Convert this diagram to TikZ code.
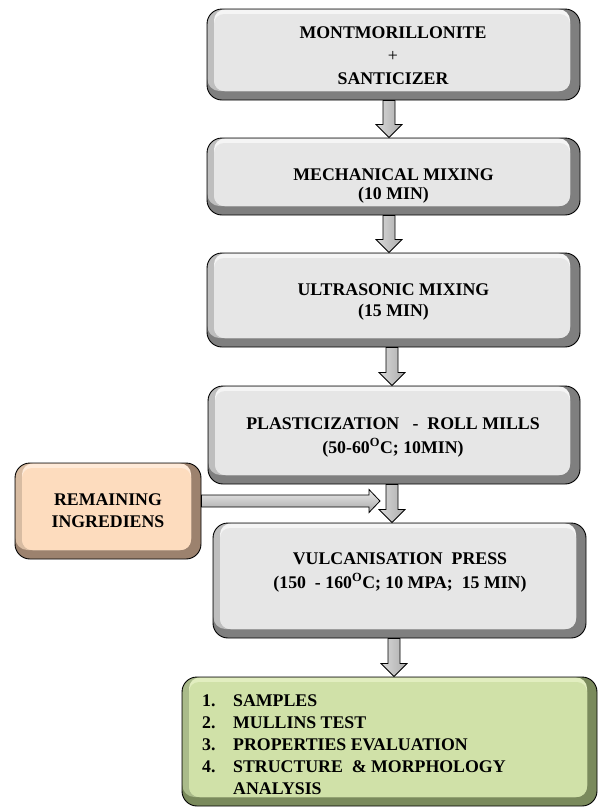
\documentclass[tikz,border=0pt]{standalone}
\usepackage{fontspec}
\setmainfont{Liberation Serif}
\usetikzlibrary{calc}
\definecolor{gface}{HTML}{E6E6E6}
\definecolor{gdark}{HTML}{7F7F7F}
\definecolor{gside}{HTML}{BEBEBE}
\definecolor{glight}{HTML}{F5F5F5}
\definecolor{oface}{HTML}{FDDCBE}
\definecolor{odark}{HTML}{9C826E}
\definecolor{oside}{HTML}{D8BCA2}
\definecolor{olight}{HTML}{FFEAD8}
\definecolor{vface}{HTML}{D0E1A8}
\definecolor{vdark}{HTML}{7A8A5C}
\definecolor{vside}{HTML}{AABB8A}
\definecolor{vlight}{HTML}{E2EEC0}
\tikzset{
  bevelbox/.style n args={4}{rounded corners=15pt, draw=black, line width=0.9pt,
    fill=#2, inner sep=0pt,
    path picture={
      \fill[#3, rounded corners=12pt] ([shift={(0.4pt,9pt)}]path picture bounding box.south west) rectangle ([shift={(-10pt,-0.4pt)}]path picture bounding box.north east);
      \fill[#4, rounded corners=11pt] ([shift={(7pt,9pt)}]path picture bounding box.south west) rectangle ([shift={(-10pt,-0.4pt)}]path picture bounding box.north east);
      \fill[#1, rounded corners=10pt] ([shift={(7pt,9pt)}]path picture bounding box.south west) rectangle ([shift={(-10pt,-5pt)}]path picture bounding box.north east);
    }},
  graybox/.style={bevelbox={gface}{gdark}{gside}{glight}},
  orangebox/.style={bevelbox={oface}{odark}{oside}{olight}},
  greenbox/.style={bevelbox={vface}{vdark}{vside}{vlight}},
  lbl/.style={inner sep=0pt, align=center, font=\fontsize{17.8}{#1}\selectfont\bfseries},
  varrowstyle/.style={draw=black, line width=0.8pt, left color=gray!30, middle color=white, right color=gray!65},
  harrowstyle/.style={draw=black, line width=0.8pt, top color=gray!15, middle color=gray!45, bottom color=gray!70},
}
\newcommand\varrow[3]{% xshift, from, to
  \path let \p1=([xshift=#1]#2.south), \p2=(#3.north) in
    [varrowstyle] (\x1-6pt,\y1) -- (\x1-6pt,\y2+13pt) -- (\x1-13pt,\y2+13pt) -- (\x1,\y2)
    -- (\x1+13pt,\y2+13pt) -- (\x1+6pt,\y2+13pt) -- (\x1+6pt,\y1) -- cycle;}
\begin{document}
\begin{tikzpicture}
\useasboundingbox (0,0) rectangle (598pt,-807pt);
% boxes
\node[graybox, minimum width=373pt, minimum height=91pt] (b1) at (393.5pt,-54.5pt) {};
\node[graybox, minimum width=373pt, minimum height=77pt] (b2) at (393.5pt,-176.5pt) {};
\node[graybox, minimum width=373pt, minimum height=94pt] (b3) at (393.5pt,-300pt) {};
\node[graybox, minimum width=372pt, minimum height=98pt] (b4) at (394pt,-435pt) {};
\node[graybox, minimum width=373pt, minimum height=115pt] (b5) at (399.5pt,-580.5pt) {};
\node[greenbox, minimum width=415pt, minimum height=129pt] (b6) at (389.5pt,-741.5pt) {};
\node[orangebox, minimum width=186pt, minimum height=96pt] (rem) at (108pt,-511pt) {};
% texts
\node[lbl=23] (t1) at (393pt,-56pt) {MONTMORILLONITE\\{\mdseries +}\\SANTICIZER};
\node[lbl=19] (t2) at (393.5pt,-186pt) {MECHANICAL MIXING\\(10 MIN)};
\node[lbl=21] (t3) at (393.5pt,-302pt) {ULTRASONIC MIXING\\(15 MIN)};
\node[lbl=24] (t4) at (393pt,-437pt) {PLASTICIZATION\ \ \ -\ \ ROLL MILLS\\(50-60\textsuperscript{O}C; 10MIN)};
\node[lbl=24] (t5) at (400pt,-572pt) {VULCANISATION\ \ PRESS\\(150\ \ -\ 160\textsuperscript{O}C; 10 MPA;\ \ 15 MIN)};
\node[lbl=22] (t7) at (108pt,-511pt) {REMAINING\\INGREDIENS};
\node[inner sep=0pt, align=left, anchor=north west, font=\fontsize{17.8}{21.8}\selectfont\bfseries] (t6) at (202pt,-695pt)
 {\makebox[31pt][l]{1.}SAMPLES\\
  \makebox[31pt][l]{2.}MULLINS\ TEST\\
  \makebox[31pt][l]{3.}PROPERTIES EVALUATION\\
  \makebox[31pt][l]{4.}STRUCTURE\ \ \&\ MORPHOLOGY\\
  \makebox[31pt][l]{}ANALYSIS};
% arrows
\varrow{-4.5pt}{b1}{b2}
\varrow{-4.5pt}{b2}{b3}
\varrow{-1.5pt}{b3}{b4}
\varrow{-2pt}{b4}{b5}
\varrow{-5.5pt}{b5}{b6}
\coordinate (htip) at (380pt,-501pt);
\path let \p1=([yshift=10pt]rem.east), \p2=(htip) in
  [harrowstyle] (\x1,\y1+6pt) -- (\x2-11pt,\y1+6pt) -- (\x2-11pt,\y1+11.5pt) -- (\x2,\y1)
  -- (\x2-11pt,\y1-11.5pt) -- (\x2-11pt,\y1-6pt) -- (\x1,\y1-6pt) -- cycle;
\end{tikzpicture}
\end{document}
